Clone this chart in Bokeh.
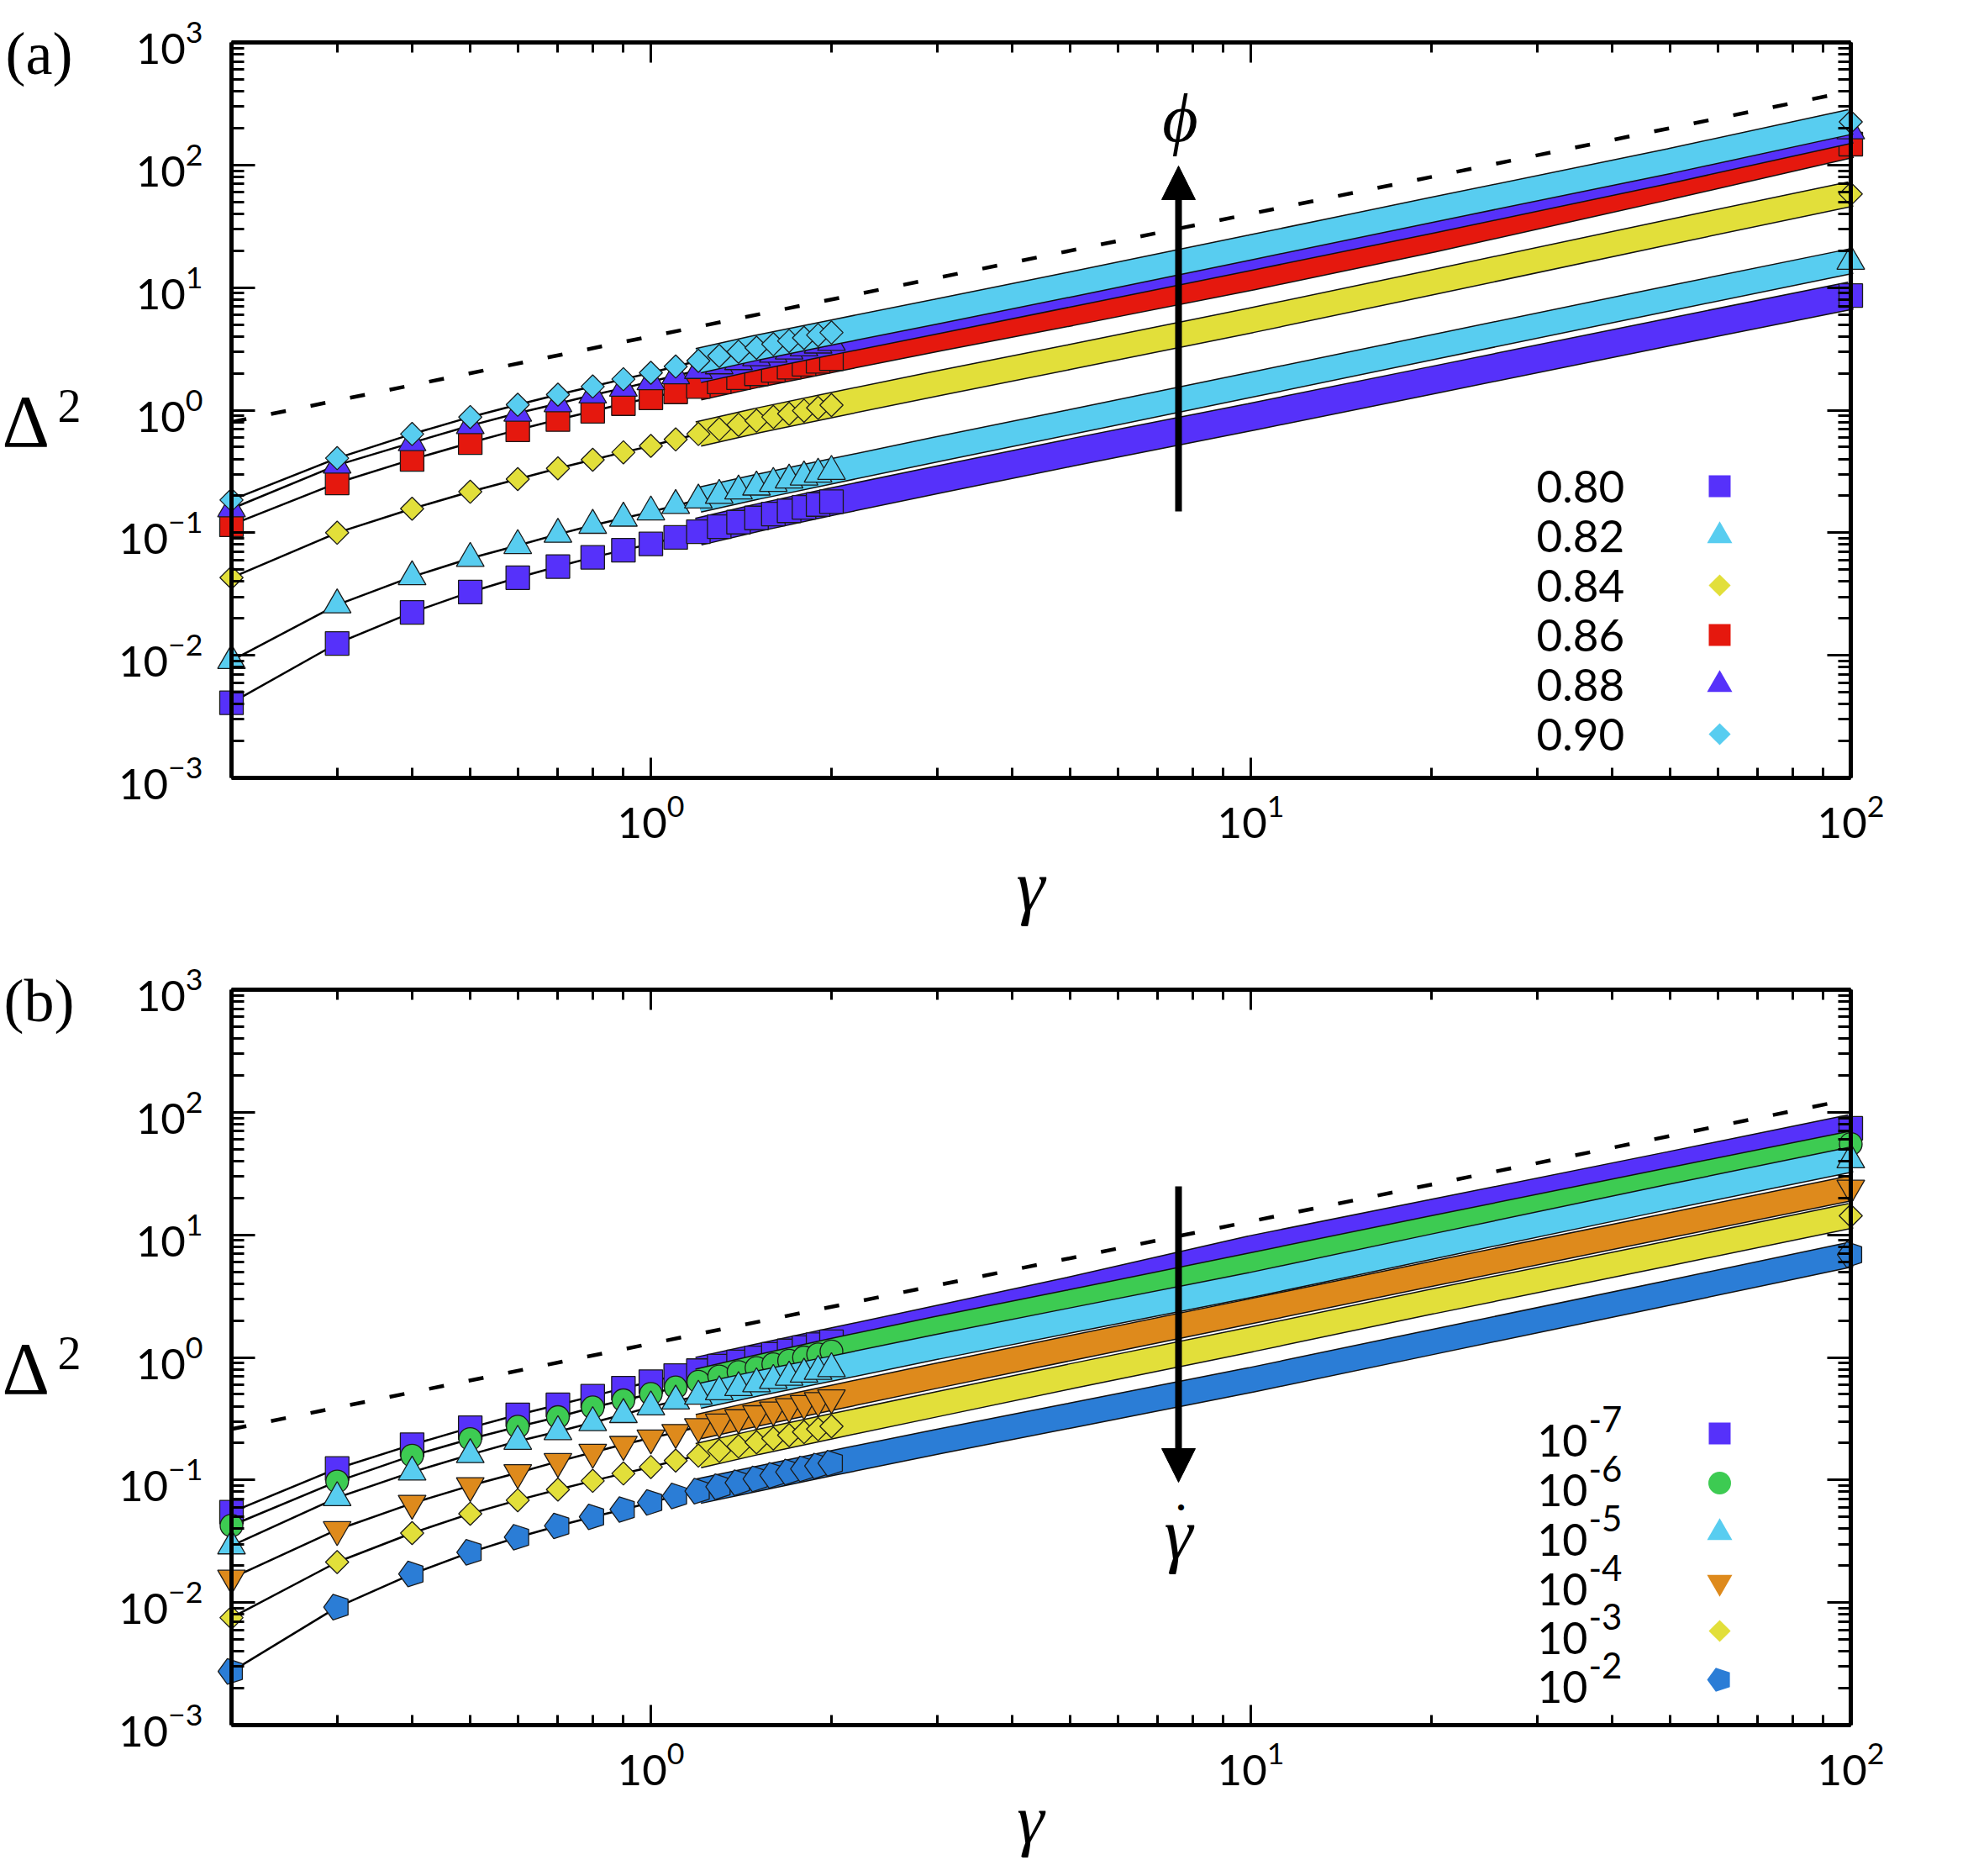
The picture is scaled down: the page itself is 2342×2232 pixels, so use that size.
import numpy as np
from bokeh.plotting import figure
from bokeh.models import Label, Arrow, NormalHead, LogAxis, LogTicker, Range1d
from bokeh.layouts import column
from bokeh.embed import file_html
from bokeh.resources import INLINE
from bokeh.core.properties import value

# ---------------- data ----------------
gamma_sparse = [0.2, 0.3, 0.4, 0.5, 0.6, 0.7, 0.8, 0.9, 1.0, 1.1, 1.2,
                1.3, 1.4, 1.5, 1.6, 1.7, 1.8, 1.9, 2.0]
gamma_band = [1.2, 1.5, 2.0, 3.0, 5.0, 10.0, 20.0, 50.0, 100.0]

phi_labels = ["0.80", "0.82", "0.84", "0.86", "0.88", "0.90"]
phi080 = [0.0041, 0.0125, 0.0224, 0.0328, 0.043, 0.053, 0.063, 0.072, 0.081, 0.0915, 0.102,
          0.112, 0.122, 0.132, 0.142, 0.151, 0.161, 0.170, 0.179]
phi080_band = [0.102, 0.132, 0.179, 0.27, 0.45, 0.88, 1.75, 4.35, 8.6]
phi082 = [0.00906, 0.0258, 0.0438, 0.0618, 0.0787, 0.0972, 0.115, 0.1315, 0.148, 0.167, 0.185,
          0.202, 0.219, 0.236, 0.253, 0.269, 0.285, 0.301, 0.317]
phi082_band = [0.185, 0.236, 0.317, 0.48, 0.80, 1.61, 3.25, 8.2, 16.4]
phi084 = [0.043, 0.100, 0.157, 0.216, 0.274, 0.335, 0.394, 0.453, 0.511, 0.577, 0.639,
          0.70, 0.76, 0.82, 0.88, 0.935, 0.99, 1.045, 1.10]
phi084_band = [0.639, 0.82, 1.10, 1.65, 2.72, 5.4, 11.0, 28.5, 58.0]
phi086 = [0.116, 0.255, 0.396, 0.543, 0.691, 0.838, 0.98, 1.13, 1.26, 1.41, 1.56,
          1.70, 1.84, 1.98, 2.11, 2.24, 2.37, 2.50, 2.63]
phi086_band = [1.56, 1.98, 2.63, 3.9, 6.3, 12.3, 25.0, 68.0, 148.0]
phi088 = [0.157, 0.356, 0.543, 0.748, 0.946, 1.13, 1.33, 1.51, 1.71, 1.91, 2.11,
          2.30, 2.49, 2.68, 2.86, 3.04, 3.22, 3.40, 3.57]
phi088_band = [2.11, 2.68, 3.57, 5.3, 8.8, 17.5, 35.0, 90.0, 190.0]
phi090 = [0.185, 0.406, 0.639, 0.879, 1.107, 1.34, 1.56, 1.79, 2.02, 2.27, 2.53,
          2.77, 3.0, 3.23, 3.45, 3.67, 3.89, 4.1, 4.3]
phi090_band = [2.53, 3.23, 4.3, 6.4, 10.6, 21.3, 43.0, 108.0, 225.0]

rate_exponents = ["-7", "-6", "-5", "-4", "-3", "-2"]
rate1e7 = [0.0547, 0.124, 0.194, 0.267, 0.340, 0.410, 0.483, 0.561, 0.634, 0.711, 0.78,
           0.85, 0.92, 0.99, 1.06, 1.13, 1.20, 1.27, 1.34]
rate1e7_band = [0.78, 0.99, 1.34, 2.05, 3.5, 7.6, 15.0, 37.0, 74.0]
rate1e6 = [0.0425, 0.0973, 0.158, 0.216, 0.272, 0.326, 0.391, 0.447, 0.504, 0.569, 0.634,
           0.70, 0.76, 0.82, 0.88, 0.94, 1.0, 1.06, 1.12]
rate1e6_band = [0.634, 0.82, 1.12, 1.7, 2.8, 5.6, 11.2, 27.8, 55.0]
rate1e5 = [0.029, 0.0718, 0.116, 0.161, 0.207, 0.248, 0.294, 0.342, 0.395, 0.441, 0.483,
           0.525, 0.567, 0.61, 0.65, 0.69, 0.73, 0.77, 0.81]
rate1e5_band = [0.483, 0.61, 0.81, 1.22, 2.0, 3.9, 8.0, 20.5, 41.0]
rate1e4 = [0.0158, 0.0393, 0.0645, 0.0899, 0.1146, 0.1415, 0.168, 0.195, 0.22, 0.244, 0.272,
           0.297, 0.322, 0.347, 0.372, 0.396, 0.42, 0.444, 0.468]
rate1e4_band = [0.272, 0.347, 0.468, 0.71, 1.19, 2.38, 4.8, 12.0, 24.0]
rate1e3 = [0.00753, 0.0214, 0.0369, 0.0531, 0.0684, 0.0835, 0.0984, 0.113, 0.1276, 0.144, 0.158,
           0.173, 0.188, 0.203, 0.218, 0.232, 0.246, 0.26, 0.274]
rate1e3_band = [0.158, 0.203, 0.274, 0.415, 0.70, 1.40, 2.85, 7.1, 14.3]
rate1e2 = [0.00274, 0.00918, 0.0171, 0.0257, 0.0341, 0.0422, 0.050, 0.0574, 0.0656, 0.074, 0.081,
           0.088, 0.095, 0.102, 0.109, 0.116, 0.123, 0.130, 0.137]
rate1e2_band = [0.081, 0.102, 0.137, 0.205, 0.335, 0.655, 1.33, 3.38, 6.9]

guide_x = [0.2, 100.0]
guide_a = [0.8, 400.0]
guide_b = [0.26, 128.0]

# ---------------- styles ----------------
PURPLE = "#5631FA"
CYAN = "#58CDF0"
YELLOW = "#E2DF3A"
RED = "#E5180E"
GREEN = "#3DCB52"
ORANGE = "#DE8A1C"
BLUE = "#2B7DD6"

X_LO, X_HI = 0.2, 100.0
Y_LO, Y_HI = 1e-3, 1e3
FL, FR = 283, 2210          # plot box left / right (page px)
FH = 875                    # plot box height
TOP_A, TOP_B = 58, 1185     # plot box tops (page px)
FIG_W, FIG_H = 2326, 1108
SERIF = "Liberation Serif"
SANS = "Lato"


def xd(px):
    return 10 ** (np.log10(X_LO) + (px - FL) * np.log10(X_HI / X_LO) / (FR - FL))


def yd(py, top):
    return 10 ** (np.log10(Y_HI) - (py - top) * np.log10(Y_HI / Y_LO) / FH)


def make_fig(canvas_top, box_top):
    # the frame covers the whole canvas; the plot box is drawn with bounded axes
    p = figure(width=FIG_W, height=FIG_H, x_axis_type="log", y_axis_type="log",
               x_range=Range1d(xd(8), xd(8 + FIG_W)),
               y_range=Range1d(yd(canvas_top + FIG_H, box_top), yd(canvas_top, box_top)),
               output_backend="svg", toolbar_location=None, min_border=0,
               min_border_left=0, min_border_right=0, min_border_top=0, min_border_bottom=0)
    p.grid.visible = False
    p.outline_line_color = None
    p.add_layout(LogAxis(), "right")
    p.add_layout(LogAxis(), "above")
    p.below[0].fixed_location = Y_LO
    p.above[0].fixed_location = Y_HI
    p.left[0].fixed_location = X_LO
    p.right[0].fixed_location = X_HI
    for ax in p.axis:
        ax.ticker = LogTicker(num_minor_ticks=10, desired_num_ticks=10)
        ax.axis_line_width = 5
        ax.axis_line_color = "black"
        ax.major_tick_out = 0
        ax.minor_tick_out = 0
        ax.major_tick_line_width = 3
        ax.minor_tick_line_width = 3
        ax.major_label_text_font = SANS
        ax.major_label_text_font_size = "51px"
        ax.major_label_text_color = "black"
    for ax in p.xaxis:
        ax.bounds = (X_LO, X_HI)
        ax.major_tick_in = 24
        ax.minor_tick_in = 12
        ax.major_label_standoff = 20
    for ax in p.yaxis:
        ax.bounds = (Y_LO, Y_HI)
        ax.major_tick_in = 28
        ax.minor_tick_in = 15
        ax.major_label_standoff = 34
    for ax in p.right + p.above:
        ax.major_label_text_font_size = "10px"
        ax.major_label_text_alpha = 0.0
        ax.major_label_standoff = 0
    return p


def draw_series(p, ys, yb, color, kind, size, band_w):
    p.line(gamma_sparse, ys, line_color="black", line_width=2.5)
    p.line(gamma_band, yb, line_color="#111111", line_width=band_w + 3)
    p.line(gamma_band, yb, line_color=color, line_width=band_w)
    draw_marker(p, gamma_sparse, ys, color, kind, size, "#1a1a1a")
    draw_marker(p, gamma_band[-1:], yb[-1:], color, kind, size, "#1a1a1a")


def draw_marker(p, xs, ys, color, kind, size, outline):
    lw = 1.3 if outline else 0
    if kind == "diamond":
        p.scatter(xs, ys, marker="square", angle=np.pi / 4, size=size,
                  fill_color=color, line_color=outline, line_width=lw)
    elif kind == "pentagon":
        done = False
        if hasattr(p, "ngon"):
            try:
                p.ngon(x=xs, y=ys, radius=size / 2, radius_units="screen", n=5,
                       angle=np.pi / 2, fill_color=color, line_color=outline, line_width=lw)
                done = True
            except Exception:
                done = False
        if not done:
            p.scatter(xs, ys, marker="hex", size=size, fill_color=color,
                      line_color=outline, line_width=lw)
    else:
        p.scatter(xs, ys, marker=kind, size=size, fill_color=color,
                  line_color=outline, line_width=lw)


def label(p, px, py, top, text, font, size, style="normal", align="center", baseline="middle"):
    p.add_layout(Label(x=xd(px), y=yd(py, top), text=text, text_font=font,
                       text_font_size=size, text_font_style=style, text_color="black",
                       text_align=align, text_baseline=baseline))


# ---------------- panel (a) ----------------
pa = make_fig(8, TOP_A)
pa.line(guide_x, guide_a, line_color="black", line_width=4.5, line_dash="18 30")
series_a = [(phi080, phi080_band, PURPLE, "square", 28, 31),
            (phi082, phi082_band, CYAN, "triangle", 33, 28),
            (phi084, phi084_band, YELLOW, "diamond", 19.5, 28),
            (phi086, phi086_band, RED, "square", 28, 31),
            (phi088, phi088_band, PURPLE, "triangle", 33, 28),
            (phi090, phi090_band, CYAN, "diamond", 19.5, 28)]
for ys, yb, c, k, s, bw in series_a:
    draw_series(pa, ys, yb, c, k, s, bw)

leg_rows_a = [586, 645, 704, 763, 822, 881]
legend_sizes = {"square": 26, "triangle": 30, "diamond": 18.5, "circle": 27,
                "inverted_triangle": 30, "pentagon": 30}
pa.text(x=[xd(1836)] * 6, y=[yd(r, TOP_A) for r in leg_rows_a], text=phi_labels,
        text_font=value(SANS), text_font_size=value("53px"), text_align="left",
        text_baseline="middle", text_color="black")
for (ys, yb, c, k, s, bw), r in zip(series_a, leg_rows_a):
    draw_marker(pa, [xd(2054)], [yd(r, TOP_A)], c, k, legend_sizes[k], None)

pa.add_layout(Arrow(end=NormalHead(size=40, fill_color="black", line_color="black"),
                    x_start=xd(1410), y_start=yd(616, TOP_A),
                    x_end=xd(1410), y_end=yd(205, TOP_A),
                    line_width=8, line_color="black"))
label(pa, 1412, 148, TOP_A, "ϕ", SERIF, "82px", style="italic")
label(pa, 54, 71, TOP_A, "(a)", SERIF, "72px")
label(pa, 10, TOP_A + 438 + 13, TOP_A, "Δ", SERIF, "88px", align="left")
label(pa, 76, TOP_A + 438 - 6, TOP_A, "2", SERIF, "56px", align="left")
label(pa, 1234, TOP_A + FH + 128, TOP_A, "γ", SERIF, "86px", style="italic")

# ---------------- panel (b) ----------------
pb = make_fig(8 + FIG_H, TOP_B)
pb.line(guide_x, guide_b, line_color="black", line_width=4.5, line_dash="18 30")
series_b = [(rate1e7, rate1e7_band, PURPLE, "square", 28, 31),
            (rate1e6, rate1e6_band, GREEN, "circle", 27, 29),
            (rate1e5, rate1e5_band, CYAN, "triangle", 33, 28),
            (rate1e4, rate1e4_band, ORANGE, "inverted_triangle", 33, 28),
            (rate1e3, rate1e3_band, YELLOW, "diamond", 19.5, 28),
            (rate1e2, rate1e2_band, BLUE, "pentagon", 32, 28)]
for ys, yb, c, k, s, bw in series_b:
    draw_series(pb, ys, yb, c, k, s, bw)

leg_rows_b = [1713, 1772, 1831, 1890, 1948, 2006]
pb.text(x=[xd(1897)] * 6, y=[yd(r + 8, TOP_B) for r in leg_rows_b], text=["10"] * 6,
        text_font=value(SANS), text_font_size=value("52px"), text_align="right",
        text_baseline="middle", text_color="black")
pb.text(x=[xd(1898)] * 6, y=[yd(r - 17, TOP_B) for r in leg_rows_b], text=rate_exponents,
        text_font=value(SANS), text_font_size=value("42px"), text_align="left",
        text_baseline="middle", text_color="black")
for (ys, yb, c, k, s, bw), r in zip(series_b, leg_rows_b):
    draw_marker(pb, [xd(2054)], [yd(r, TOP_B)], c, k, legend_sizes[k], None)

pb.add_layout(Arrow(end=NormalHead(size=40, fill_color="black", line_color="black"),
                    x_start=xd(1410), y_start=yd(1419, TOP_B),
                    x_end=xd(1410), y_end=yd(1771, TOP_B),
                    line_width=8, line_color="black"))
label(pb, 1410, 1832, TOP_B, "γ", SERIF, "86px", style="italic")
label(pb, 1413, 1801, TOP_B, "•", SERIF, "30px")
label(pb, 54, TOP_B + 13, TOP_B, "(b)", SERIF, "72px")
label(pb, 10, TOP_B + 438 + 13, TOP_B, "Δ", SERIF, "88px", align="left")
label(pb, 76, TOP_B + 438 - 6, TOP_B, "2", SERIF, "56px", align="left")
label(pb, 1234, TOP_B + FH + 112, TOP_B, "γ", SERIF, "82px", style="italic")

layout = column(pa, pb)
open("out.html", "w").write(file_html(layout, INLINE))
